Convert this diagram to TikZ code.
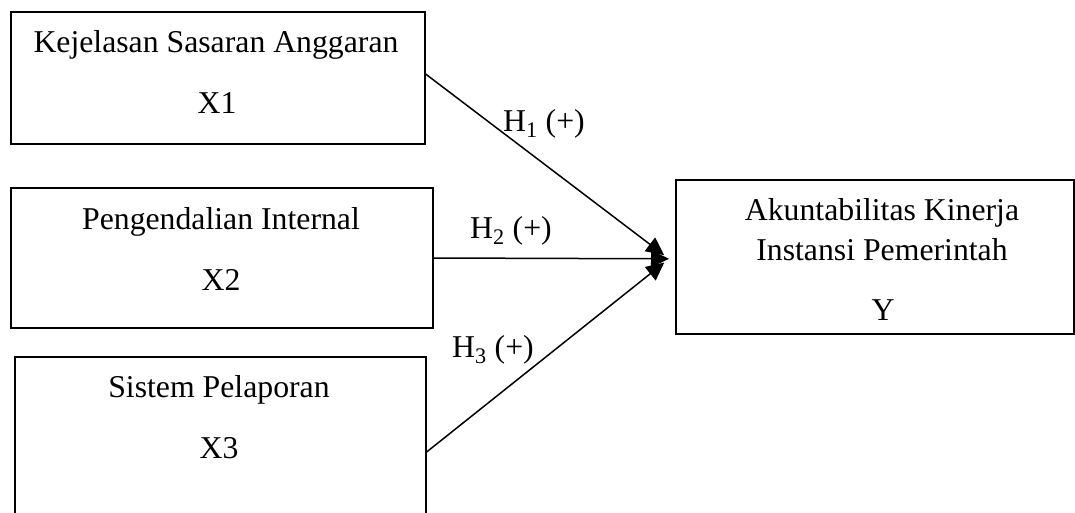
\documentclass[tikz,border=0pt]{standalone}
\usepackage{fontspec}
\setmainfont{Liberation Serif}
\usetikzlibrary{arrows.meta}
\begin{document}
\begin{tikzpicture}[x=1pt,y=-1pt,
 box/.style={draw,line width=1.6pt,inner sep=0pt,anchor=north west},
 txt/.style={anchor=base,inner sep=0pt,font=\fontsize{31.75}{38}\selectfont},
 lbl/.style={anchor=base west,inner sep=0pt,font=\fontsize{31.75}{38}\selectfont},
 arr/.style={line width=1.5pt,-{Triangle[length=18pt,width=17pt]}}]
\useasboundingbox (0,0) rectangle (1075,512);
\clip (0,0) rectangle (1075,512);
% boxes
\node[box,minimum width=414pt,minimum height=132pt] (b1) at (10,11) {};
\node[box,minimum width=422pt,minimum height=140pt] (b2) at (10,187) {};
\node[box,minimum width=411pt,minimum height=180pt] (b3) at (14,356) {};
\node[box,minimum width=398pt,minimum height=154pt] (y) at (675,179) {};
% texts
\node[txt] (t1a) at (216,52) {Kejelasan Sasaran Anggaran};
\node[txt] (t1b) at (217,113) {X1};
\node[txt] (t2a) at (221,229) {Pengendalian Internal};
\node[txt] (t2b) at (221,290) {X2};
\node[txt] (t3a) at (219,397) {Sistem Pelaporan};
\node[txt] (t3b) at (219,458) {X3};
\node[txt] (tya) at (882,220) {Akuntabilitas Kinerja};
\node[txt] (tyb) at (882,260) {Instansi Pemerintah};
\node[txt] (tyc) at (883,320) {Y};
% connectors
\coordinate (tip) at ([xshift=-6pt,yshift=-2pt]y.west);
\coordinate (s1) at ([yshift=-63pt]b1.north east);
\coordinate (s2) at ([yshift=-71pt]b2.north east);
\coordinate (s3) at ([yshift=-96pt]b3.north east);
\draw[arr,shorten >=6pt] (s1) -- (tip);
\draw[arr] (s2) -- (tip);
\draw[arr,shorten >=6pt] (s3) -- (tip);
% labels
\node[lbl] (h1) at (503,131) {H\textsubscript{1} (+)};
\node[lbl] (h2) at (470,238) {H\textsubscript{2} (+)};
\node[lbl] (h3) at (452,357) {H\textsubscript{3} (+)};
\end{tikzpicture}
\end{document}
